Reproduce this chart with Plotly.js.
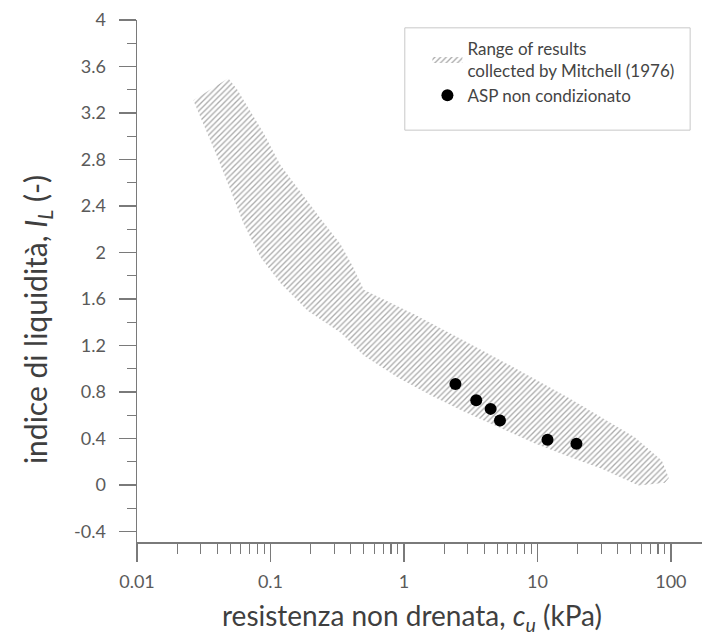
<!DOCTYPE html>
<html>
<head>
<meta charset="utf-8">
<script src="https://cdn.plot.ly/plotly-3.0.1.min.js"></script>
<style>html,body{margin:0;padding:0;background:#fff;}#chart{width:702px;height:640px;}</style>
</head>
<body>
<div id="chart"></div>
<script>
// Mitchell (1976) band: upper boundary (left to right)
const bandUpperCu = [0.0264, 0.0483, 0.0565, 0.0886, 0.119, 0.168, 0.238, 0.336, 0.414, 0.50, 1.19, 2.83, 5.36, 17.1, 53.6, 85.5, 96.6];
const bandUpperIL = [3.31, 3.50, 3.40, 3.03, 2.75, 2.52, 2.29, 2.07, 1.88, 1.68, 1.47, 1.24, 1.07, 0.75, 0.41, 0.21, 0.06];
// lower boundary (right to left)
const bandLowerCu = [90.1, 57.4, 30.3, 17.1, 9.49, 5.36, 2.83, 1.60, 0.90, 0.50, 0.336, 0.190, 0.119, 0.0841, 0.0627, 0.050, 0.040, 0.0313];
const bandLowerIL = [0.02, -0.005, 0.14, 0.245, 0.36, 0.49, 0.63, 0.77, 0.925, 1.115, 1.31, 1.50, 1.735, 1.96, 2.25, 2.54, 2.82, 3.11];
// ASP non condizionato
const aspCu = [2.43, 3.48, 4.46, 5.24, 11.9, 19.6];
const aspIL = [0.87, 0.73, 0.655, 0.555, 0.39, 0.355];
// ticks
const xTickVals = [0.01, 0.1, 1, 10, 100];
const xTickText = ['0.01', '0.1', '1', '10', '100'];
const yTickVals = [-0.4, 0, 0.4, 0.8, 1.2, 1.6, 2, 2.4, 2.8, 3.2, 3.6, 4];
const yTickText = ['-0.4', '0', '0.4', '0.8', '1.2', '1.6', '2', '2.4', '2.8', '3.2', '3.6', '4'];
const xTitle = 'resistenza non drenata, <i>c<sub>u</sub></i> (kPa)';
const yTitle = 'indice di liquidità, <i>I<sub>L</sub></i> (-)';

const FONT = 'Lato, "Open Sans", sans-serif';
const AX = '#7a7a7a';

const band = {
  x: bandUpperCu.concat(bandLowerCu, [bandUpperCu[0]]),
  y: bandUpperIL.concat(bandLowerIL, [bandUpperIL[0]]),
  type: 'scatter', mode: 'lines', fill: 'toself',
  line: {width: 0, color: 'rgba(0,0,0,0)'},
  fillcolor: 'white',
  fillpattern: {shape: '/', fgcolor: '#ababab', bgcolor: 'white', size: 4, solidity: 0.33},
  name: 'Range of results<br>collected by Mitchell (1976)',
  hoverinfo: 'skip'
};
const asp = {
  x: aspCu, y: aspIL, type: 'scatter', mode: 'markers',
  marker: {color: 'black', size: 12},
  name: 'ASP non condizionato'
};

const layout = {
  width: 702, height: 640,
  margin: {l: 137, r: 0, t: 20, b: 98},
  paper_bgcolor: 'white', plot_bgcolor: 'white',
  font: {family: FONT, color: '#555', size: 18},
  showlegend: true,
  legend: {
    x: 0.514, y: 0.98, xanchor: 'left', yanchor: 'top',
    borderwidth: 0, bgcolor: 'rgba(0,0,0,0)',
    font: {family: FONT, size: 17, color: '#444'},
    itemwidth: 30, tracegroupgap: 3
  },
  shapes: [{
    type: 'rect', xref: 'paper', yref: 'paper',
    x0: 0.474, x1: 0.979, y0: 0.789, y1: 0.985,
    line: {color: '#c8c8c8', width: 1}, fillcolor: 'rgba(0,0,0,0)', layer: 'below'
  }],
  annotations: [
    {text: xTitle, xref: 'paper', yref: 'paper', x: 0.487, y: -0.1845, xanchor: 'center', yanchor: 'bottom',
     showarrow: false, font: {family: FONT, size: 28, color: '#3f3f3f'}},
    {text: yTitle, xref: 'paper', yref: 'paper', x: -0.177, y: 0.427, xanchor: 'center', yanchor: 'middle',
     textangle: -90, showarrow: false, font: {family: FONT, size: 30, color: '#3f3f3f'}}
  ],
  xaxis: {
    type: 'log', range: [-2, 2.233],
    tickvals: xTickVals, ticktext: xTickText,
    ticks: 'outside', ticklen: 18, tickwidth: 1.2, tickcolor: AX,
    minor: {ticks: 'outside', ticklen: 10, tickwidth: 1.2, tickcolor: AX, dtick: 'D1', showgrid: false},
    showline: true, linecolor: AX, linewidth: 1.5,
    showgrid: false, zeroline: false,
    ticklabelstandoff: 5,
    tickfont: {size: 18, color: '#5a5a5a'}
  },
  yaxis: {
    range: [-0.49, 4],
    tickvals: yTickVals, ticktext: yTickText,
    ticks: 'outside', ticklen: 17, tickwidth: 1.2, tickcolor: AX,
    minor: {ticks: 'outside', ticklen: 9, tickwidth: 1.2, tickcolor: AX, dtick: 0.2, tick0: 0, showgrid: false},
    showline: true, linecolor: AX, linewidth: 1.5,
    showgrid: false, zeroline: false,
    ticklabelstandoff: 9,
    tickfont: {size: 18, color: '#5a5a5a'}
  }
};

Plotly.newPlot('chart', [band, asp], layout, {displayModeBar: false, staticPlot: true});
</script>
</body>
</html>
